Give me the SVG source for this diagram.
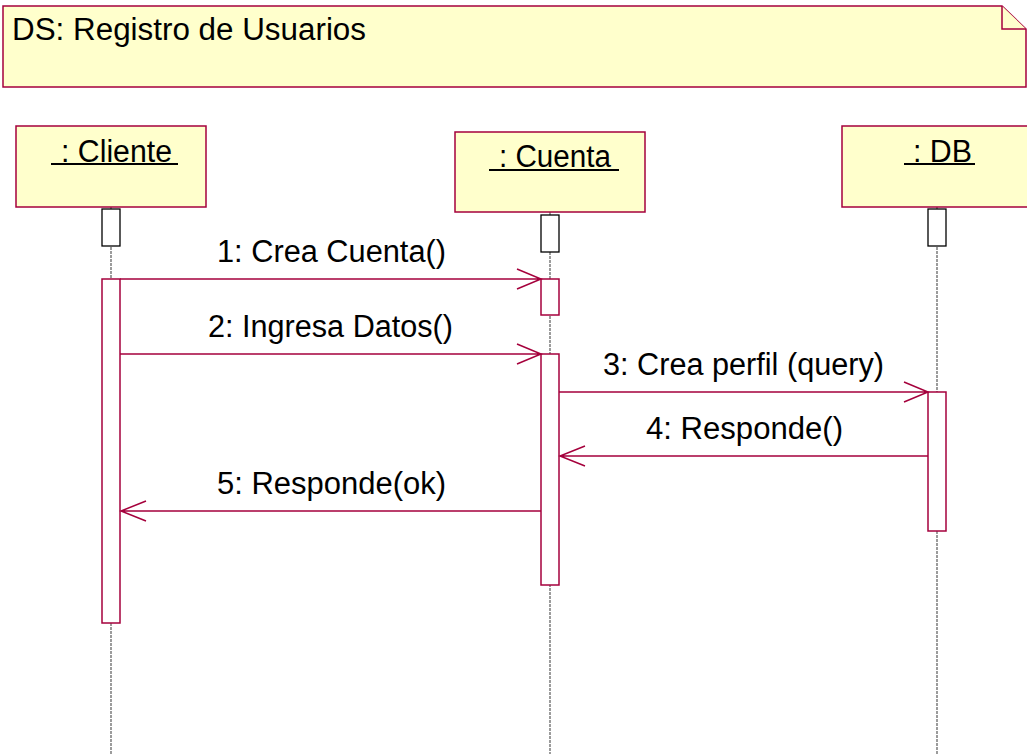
<svg xmlns="http://www.w3.org/2000/svg" width="1027" height="754" viewBox="0 0 1027 754">
<style>
.obj{fill:#ffffcc;stroke:#a5003c;stroke-width:1.5}
.t{font-family:"Liberation Sans",Arial,sans-serif;font-size:31px;fill:#000}
.ul{stroke:#000;stroke-width:2}
.life{stroke:#5a5a5a;stroke-width:1.2;stroke-dasharray:3,1;fill:none}
.sb{fill:#fff;stroke:#000;stroke-width:1.3}
.act{fill:#fff;stroke:#a5003c;stroke-width:1.5}
.msg{stroke:#a5003c;stroke-width:1.5;fill:none}
</style>
<rect width="1027" height="754" fill="#fff"/>
<g id="note">
<path class="obj" d="M3,6 H1002 L1026,29 V87 H3 Z"/>
<path class="obj" d="M1002,6 V29 H1026"/>
<text class="t" x="12" y="40" textLength="354" lengthAdjust="spacingAndGlyphs">DS: Registro de Usuarios</text>
</g>
<g id="lifelines">
<line class="life" x1="111" y1="207" x2="111" y2="754"/>
<line class="life" x1="550" y1="212" x2="550" y2="754"/>
<line class="life" x1="937" y1="207" x2="937" y2="754"/>
</g>
<g id="cliente">
<rect class="obj" x="16" y="126" width="190" height="81"/>
<text class="t" x="61" y="162" textLength="111" lengthAdjust="spacingAndGlyphs">: Cliente</text>
<line class="ul" x1="51" y1="164" x2="178" y2="164"/>
<rect class="sb" x="102" y="209" width="18" height="37"/>
<rect class="act" x="102" y="279" width="18" height="344"/>
</g>
<g id="cuenta">
<rect class="obj" x="455" y="132" width="190" height="80"/>
<text class="t" x="499" y="167" textLength="112" lengthAdjust="spacingAndGlyphs">: Cuenta</text>
<line class="ul" x1="489" y1="170" x2="619" y2="170"/>
<rect class="sb" x="541" y="215" width="18" height="37"/>
<rect class="act" x="541" y="279" width="18" height="36"/>
<rect class="act" x="541" y="354" width="18" height="231"/>
</g>
<g id="db">
<rect class="obj" x="842" y="126" width="190" height="81"/>
<text class="t" x="913" y="162" textLength="59" lengthAdjust="spacingAndGlyphs">: DB</text>
<line class="ul" x1="904" y1="164" x2="975" y2="164"/>
<rect class="sb" x="928" y="209" width="18" height="37"/>
<rect class="act" x="928" y="392" width="18" height="139"/>
</g>
<g id="connectors">
<path class="msg" d="M120,279 H541 M517,269 L541,279 L517,289"/>
<path class="msg" d="M120,354 H541 M517,344 L541,354 L517,364"/>
<path class="msg" d="M559,392 H928 M904,382 L928,392 L904,402"/>
<path class="msg" d="M928,456 H560 M585,446 L560,456 L585,466"/>
<path class="msg" d="M541,511 H121 M146,501 L121,511 L146,521"/>
</g>
<g id="labels">
<text class="t" x="217" y="262" textLength="229" lengthAdjust="spacingAndGlyphs">1: Crea Cuenta()</text>
<text class="t" x="208" y="337" textLength="245" lengthAdjust="spacingAndGlyphs">2: Ingresa Datos()</text>
<text class="t" x="603" y="375" textLength="281" lengthAdjust="spacingAndGlyphs">3: Crea perfil (query)</text>
<text class="t" x="646" y="439" textLength="197" lengthAdjust="spacingAndGlyphs">4: Responde()</text>
<text class="t" x="217" y="494" textLength="229" lengthAdjust="spacingAndGlyphs">5: Responde(ok)</text>
</g>
</svg>
